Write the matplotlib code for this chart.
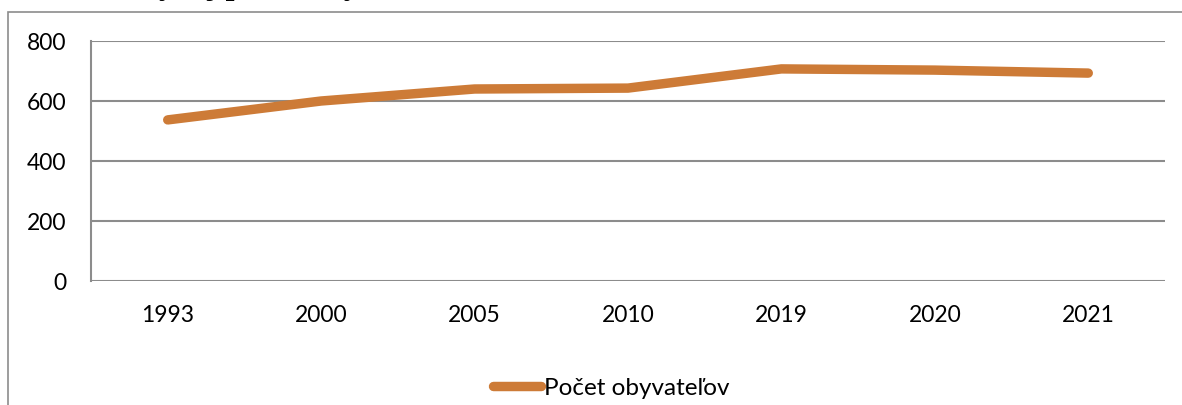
import matplotlib
matplotlib.use("Agg")
import matplotlib.pyplot as plt
from matplotlib.patches import Rectangle

plt.rcParams['font.family'] = ['Lato', 'DejaVu Sans']

years = ['1993', '2000', '2005', '2010', '2019', '2020', '2021']
population = [537, 600, 640, 643, 707, 703, 693]
series_name = 'Počet obyvateľov'
y_ticks = [0, 200, 400, 600, 800]

W, H = 1182, 405
fig = plt.figure(figsize=(W / 100, H / 100), dpi=100)

# outer chart frame (cut off on right and bottom)
frame = Rectangle((8 / W, -0.1), 1.2, (H - 12) / H + 0.1, transform=fig.transFigure,
                  fill=False, edgecolor='#8c8c8c', linewidth=1.2, clip_on=False)
fig.patches.append(frame)

# title, mostly cut off at the top of the image
fig.text(143 / W, 1 + 6 / H, 'vývoj počtu obyvateľov', family='Liberation Serif',
         fontweight='bold', fontsize=23, va='baseline', ha='left')

ax = fig.add_axes([91 / W, 1 - 281 / H, (1165 - 91) / W, (281 - 41) / H])
x = range(len(years))
ax.plot(x, population, color='#CD7B37', linewidth=6.8, solid_capstyle='round',
        solid_joinstyle='round', label=series_name)

ax.set_xlim(-0.5, len(years) - 0.5)
ax.set_ylim(0, 800)
ax.set_yticks(y_ticks)
ax.set_xticks(list(x))
ax.set_xticklabels(years)
ax.grid(axis='y', color='#8c8c8c', linewidth=1.5)
ax.set_axisbelow(True)
for s in ['top', 'right', 'bottom']:
    ax.spines[s].set_visible(False)
ax.spines['left'].set_color('#8c8c8c')
ax.spines['left'].set_linewidth(1.5)
ax.tick_params(axis='both', length=0, labelsize=16.5, colors='black')
ax.tick_params(axis='y', pad=18)
ax.tick_params(axis='x', pad=17)

fig.legend(loc='center', bbox_to_anchor=(611 / W, 1 - 388 / H), frameon=False,
           fontsize=17.5, handlelength=2.0, handletextpad=0.1)

fig.savefig('out.png', dpi=100)
